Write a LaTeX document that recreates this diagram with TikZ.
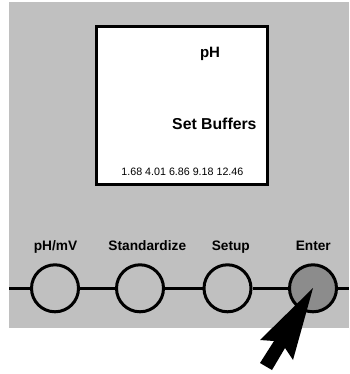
\documentclass[tikz,border=0pt]{standalone}
\usepackage{fontspec}
\setmainfont{Liberation Sans}
\definecolor{panel}{HTML}{C0C0C0}
\definecolor{pressed}{HTML}{8C8C8C}
\begin{document}
\begin{tikzpicture}[x=1pt,y=-1pt,
  btn/.style={circle,draw=black,line width=3pt,minimum size=47pt,inner sep=0pt,fill=panel},
  lbl/.style={font=\fontsize{13.7}{16}\selectfont\bfseries,inner sep=0pt,anchor=base},
  disp/.style={inner sep=0pt,anchor=base}]
\useasboundingbox (0,0) rectangle (349,374);
\fill[panel] (9,1.7) rectangle (349,327.5);
\draw[line width=3.3pt,fill=white] (96.7,26.7) rectangle (267.7,184.3);
\node[disp,font=\fontsize{15}{18}\selectfont\bfseries] (ph) at (210,57.7) {pH};
\node[disp,font=\fontsize{15.8}{19}\selectfont\bfseries,anchor=base east] (sb) at (256.7,129.3) {Set Buffers};
\node[disp,font=\fontsize{10.7}{13}\selectfont] (nums) at (182.4,175) {1.68 4.01 6.86 9.18 12.46};
\coordinate (lend) at (9,288.3);
\coordinate (rend) at (349,288.3);
\node[btn] (b1) at (55,288.3) {};
\node[btn] (b2) at (140,288.3) {};
\node[btn] (b3) at (227.5,288.3) {};
\node[btn,fill=pressed] (b4) at (313,288.3) {};
\draw[line width=2.5pt] (lend) -- (b1) (b1) -- (b2) (b2) -- (b3) (b3) -- (b4) (b4) -- (rend);
\node[lbl] (l1) at (55.5,250) {pH/mV};
\node[lbl] (l2) at (147.3,250) {Standardize};
\node[lbl] (l3) at (230.8,250) {Setup};
\node[lbl] (l4) at (313.3,250) {Enter};
\fill[black] (313,288) -- (293,360) -- (285,348) -- (272,370) -- (260,363) -- (274,341) -- (260,340) -- cycle;
\end{tikzpicture}
\end{document}
